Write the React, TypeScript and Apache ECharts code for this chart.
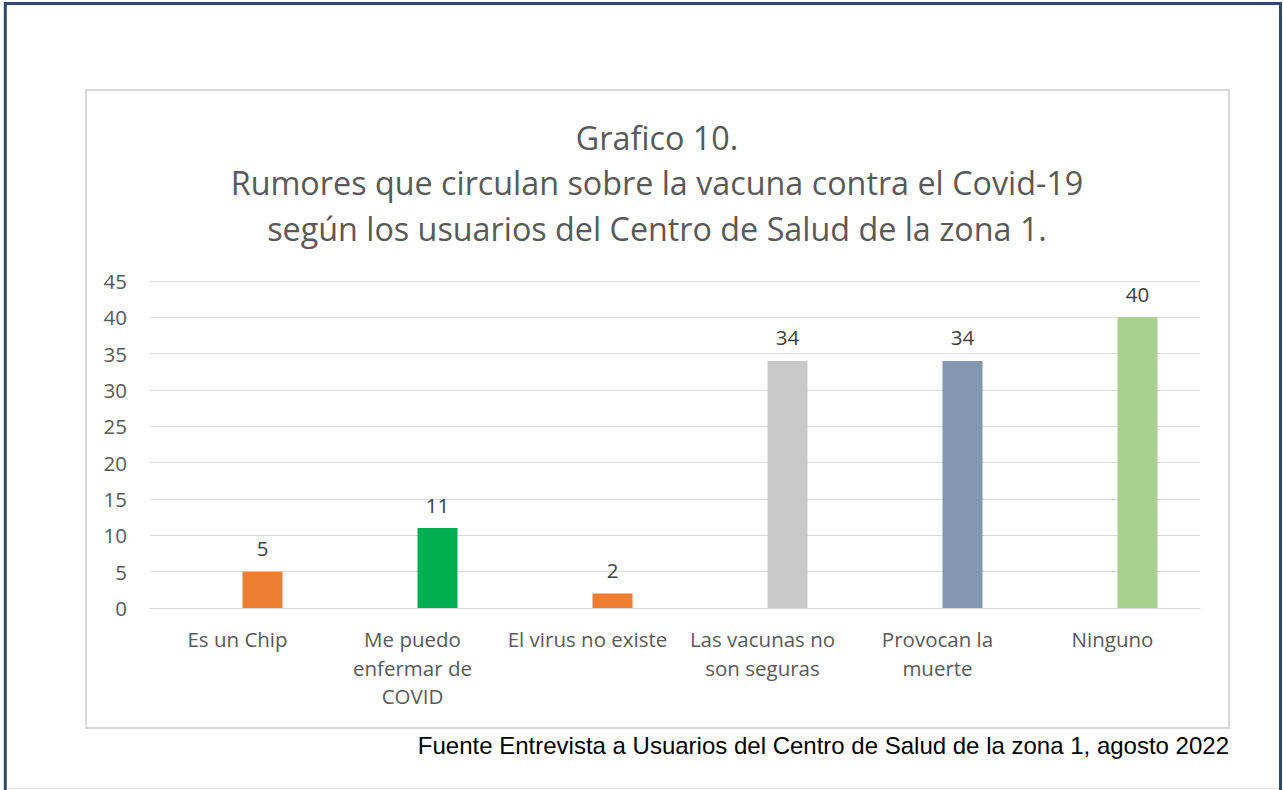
import React, { useEffect, useRef } from "react";
import * as echarts from "echarts";

const categories = [
  "Es un Chip",
  "Me puedo\nenfermar de\nCOVID",
  "El virus no existe",
  "Las vacunas no\nson seguras",
  "Provocan la\nmuerte",
  "Ninguno",
];
const values = [5, 11, 2, 34, 34, 40];
const barColors = ["#ED7D31", "#00B050", "#ED7D31", "#C9C9C9", "#8497B0", "#A9D18E"];
const yMin = 0;
const yMax = 45;
const yInterval = 5;
const titleLines = [
  "Grafico 10.",
  "Rumores que circulan sobre la vacuna contra el Covid-19",
  "según los usuarios del Centro de Salud de la zona 1.",
];
const sourceNote = "Fuente Entrevista a Usuarios del Centro de Salud de la zona 1, agosto 2022";

const FONT = "'Open Sans', 'Noto Sans', sans-serif";

export default function App() {
  const ref = useRef<HTMLDivElement>(null);
  useEffect(() => {
    if (!ref.current) return;
    const chart = echarts.init(ref.current, null, { renderer: "svg" });
    const titleYs = [136.5, 182, 227.5];
    const option: any = {
      animation: false,
      backgroundColor: "#ffffff",
      grid: { left: 150, right: 83, top: 281, bottom: 182, containLabel: false },
      xAxis: {
        type: "category",
        data: categories,
        axisLine: { show: true, lineStyle: { color: "#D9D9D9", width: 1 } },
        axisTick: { show: false },
        axisLabel: {
          color: "#595959",
          fontFamily: FONT,
          fontSize: 20.5,
          lineHeight: 28.5,
          margin: 17,
          interval: 0,
        },
      },
      yAxis: {
        type: "value",
        min: yMin,
        max: yMax,
        interval: yInterval,
        axisLine: { show: false },
        axisTick: { show: false },
        splitLine: { show: true, lineStyle: { color: "#D9D9D9", width: 1 } },
        axisLabel: {
          color: "#595959",
          fontFamily: FONT,
          fontSize: 20.5,
          margin: 23,
        },
      },
      series: [
        {
          type: "bar",
          data: categories.map(() => "-"),
          barWidth: 40,
          barGap: "25%",
          silent: true,
        },
        {
          type: "bar",
          barWidth: 40,
          barGap: "25%",
          data: values.map((v, i) => ({ value: v, itemStyle: { color: barColors[i] } })),
          label: {
            show: true,
            position: "top",
            distance: 13,
            color: "#404040",
            fontFamily: FONT,
            fontSize: 20.5,
            lineHeight: 21,
          },
        },
      ],
      graphic: [
        {
          type: "rect",
          shape: { x: 5.3, y: 3.4, width: 1275.2, height: 800 },
          style: { fill: "none", stroke: "#2E4A6B", lineWidth: 3 },
          silent: true,
        },
        {
          type: "line",
          shape: { x1: 7, y1: 788.5, x2: 1279, y2: 788.5 },
          style: { stroke: "#E6E6E6", lineWidth: 1 },
          silent: true,
        },
        {
          type: "rect",
          shape: { x: 86, y: 90, width: 1143, height: 638 },
          style: { fill: "none", stroke: "#D9D9D9", lineWidth: 2 },
          silent: true,
        },
        ...titleLines.map((t, i) => ({
          type: "text",
          x: 657,
          y: titleYs[i],
          style: {
            text: t,
            fill: "#595959",
            font: `32.3px ${FONT}`,
            textAlign: "center",
            textVerticalAlign: "middle",
          },
          silent: true,
        })),
        {
          type: "text",
          x: 1229,
          y: 745.5,
          style: {
            text: sourceNote,
            fill: "#000000",
            font: "24px 'Liberation Sans', Arial, sans-serif",
            textAlign: "right",
            textVerticalAlign: "middle",
          },
          silent: true,
        },
      ],
    };
    chart.setOption(option);
    return () => chart.dispose();
  }, []);
  return (
    <div
      ref={ref}
      style={{ position: "absolute", left: 0, top: 0, width: 1283, height: 790, background: "#fff" }}
    />
  );
}
